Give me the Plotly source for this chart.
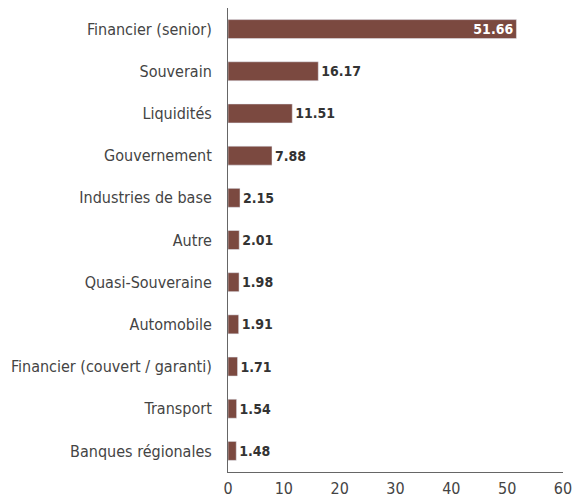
import plotly.graph_objects as go

categories = ["Financier (senior)", "Souverain", "Liquidités", "Gouvernement",
              "Industries de base", "Autre", "Quasi-Souveraine", "Automobile",
              "Financier (couvert / garanti)", "Transport", "Banques régionales"]
values = [51.66, 16.17, 11.51, 7.88, 2.15, 2.01, 1.98, 1.91, 1.71, 1.54, 1.48]
x_ticks = [0, 10, 20, 30, 40, 50, 60]

FONT = "Liberation Sans Narrow, DejaVu Sans Condensed, Liberation Sans, sans-serif"
bar_color = "#7b4940"

positions = ["inside" if v > 40 else "outside" for v in values]
text_colors = ["white" if v > 40 else "#333333" for v in values]

fig = go.Figure(go.Bar(
    x=values, y=categories, orientation="h",
    marker=dict(color=bar_color),
    text=[f"<b>{v:.2f}</b>" for v in values],
    textposition=positions,
    insidetextanchor="end",
    constraintext="none",
    textfont=dict(family=FONT, size=14, color=text_colors),
    outsidetextfont=dict(family=FONT, size=14, color="#333333"),
    insidetextfont=dict(family=FONT, size=14, color="white"),
    cliponaxis=False,
    width=0.45,
))

fig.update_layout(
    width=580, height=502,
    margin=dict(l=228, r=17, t=8, b=30, autoexpand=False),
    paper_bgcolor="white", plot_bgcolor="white",
    showlegend=False,
    font=dict(family=FONT, color="#444444"),
)
fig.update_xaxes(range=[0, 60], tickvals=x_ticks, showgrid=False, zeroline=False,
                 showline=True, linecolor="#666666", linewidth=1, automargin=False,
                 ticks="", ticklabelstandoff=2,
                 tickfont=dict(family=FONT, size=16, color="#444444"))
fig.update_yaxes(categoryorder="array", categoryarray=categories, autorange="reversed",
                 showgrid=False, showline=True, linecolor="#666666", linewidth=1,
                 ticks="", ticklabelstandoff=12, automargin=False,
                 tickfont=dict(family=FONT, size=16, color="#444444"))

fig.write_html("out.html")
